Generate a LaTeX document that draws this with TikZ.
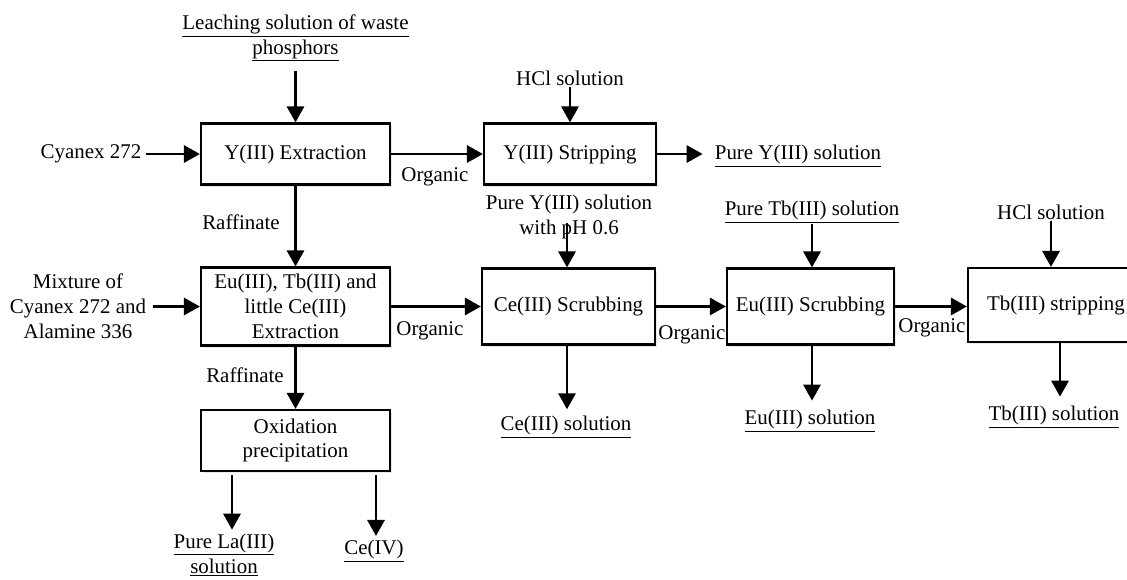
\documentclass[tikz,border=0pt]{standalone}
\usepackage{fontspec}
\setmainfont{Liberation Serif}
\usetikzlibrary{arrows.meta,shadows}

\begin{document}
\begin{tikzpicture}[x=0.75pt,y=0.75pt,yscale=-1,xscale=1,
  font=\fontsize{15.7}{18.6}\selectfont,
  proc/.style={draw,line width=1.7pt,align=center,inner sep=2pt,fill=white,
    drop shadow={opacity=0.18,shadow xshift=1.5pt,shadow yshift=-1.5pt}},
  arr/.style={line width=1.7pt,-{Triangle[length=12pt,width=13pt]}},
  lbl/.style={align=center,inner sep=1pt}]
\useasboundingbox (0,0) rectangle (1127,579);
%Process boxes
\node[proc,minimum width=141.75pt,minimum height=45.75pt] (yext) at (295.5,154) {Y(III) Extraction};
\node[proc,minimum width=129pt,minimum height=45.75pt] (ystrip) at (570,154) {Y(III) Stripping};
\node[proc,minimum width=141.75pt,minimum height=58.5pt] (eutb) at (295.5,306.5) {Eu(III), Tb(III) and\\little Ce(III)\\Extraction};
\node[proc,minimum width=141.75pt,minimum height=45.75pt] (oxid) at (295.5,440.5) {Oxidation\\precipitation};
\node[proc,minimum width=129.75pt,minimum height=57pt] (cescr) at (568.5,306.5) {Ce(III) Scrubbing};
\node[proc,minimum width=125.25pt,minimum height=57pt] (euscr) at (810.5,306.5) {Eu(III) Scrubbing};
\node[proc,minimum width=132pt,minimum height=55.5pt] (tbstrip) at (1056,305) {Tb(III) stripping};
%Feeds and products
\node[lbl] (leach) at (295.5,38) {\underline{Leaching solution of waste}\\\underline{phosphors}};
\node[lbl] (cyan) at (91,154) {Cyanex 272};
\node[lbl] (hcla) at (570,78) {HCl solution};
\node[lbl] (purey) at (798,156) {\underline{Pure Y(III) solution}};
\node[lbl] (pyph) at (569,217) {Pure Y(III) solution\\with pH 0.6};
\node[lbl] (mix) at (78,306.5) {Mixture of\\Cyanex 272 and\\Alamine 336};
\node[lbl] (puretb) at (812,212) {\underline{Pure Tb(III) solution}};
\node[lbl] (hclb) at (1051,212) {HCl solution};
\node[lbl] (cesol) at (566,427) {\underline{Ce(III) solution}};
\node[lbl] (eusol) at (810,421) {\underline{Eu(III) solution}};
\node[lbl] (tbsol) at (1054,417) {\underline{Tb(III) solution}};
\node[lbl] (lasol) at (224,555) {\underline{Pure La(III)}\\\underline{solution}};
\node[lbl] (ceiv) at (374,551) {\underline{Ce(IV)}};
%Stream labels
\node[lbl] (orga) at (435,177) {Organic};
\node[lbl] (orgb) at (430,331) {Organic};
\node[lbl] (orgc) at (692,335) {Organic};
\node[lbl] (orgd) at (932,328) {Organic};
\node[lbl] (rafa) at (241,222) {Raffinate};
\node[lbl] (rafb) at (245,375) {Raffinate};
\coordinate (phtop) at (567,223);
%Connectors
\draw[arr,shorten <=6pt] (leach) -- (yext);
\draw[arr,shorten <=2pt] (cyan) -- (yext);
\draw[arr] (yext) -- (ystrip);
\draw[arr] (hcla) -- (ystrip);
\draw[arr,shorten >=8pt] (ystrip) -- (purey.west |- ystrip);
\draw[arr] (yext) -- (eutb);
\draw[arr] (phtop) -- (phtop |- cescr.north);
\draw[arr,shorten <=4pt] (mix) -- (eutb);
\draw[arr] (eutb) -- (cescr);
\draw[arr] (cescr) -- (euscr);
\draw[arr] (euscr) -- (euscr -| tbstrip.west);
\draw[arr] (puretb) -- (puretb |- euscr.north);
\draw[arr] (hclb) -- (hclb |- tbstrip.north);
\draw[arr,shorten >=4pt] (cescr.south -| 567,0) -- (cesol.north -| 567,0);
\draw[arr,shorten >=6pt] (euscr.south -| 812,0) -- (eusol.north -| 812,0);
\draw[arr,shorten >=6pt] (tbstrip.south -| 1060,0) -- (tbsol.north -| 1060,0);
\draw[arr] (eutb) -- (oxid);
\draw[arr,shorten <=2pt,shorten >=2pt] (oxid.south -| 232,0) -- (lasol.north -| 232,0);
\draw[arr,shorten <=2pt,shorten >=2pt] (oxid.south -| 376,0) -- (ceiv.north -| 376,0);
\end{tikzpicture}
\end{document}
